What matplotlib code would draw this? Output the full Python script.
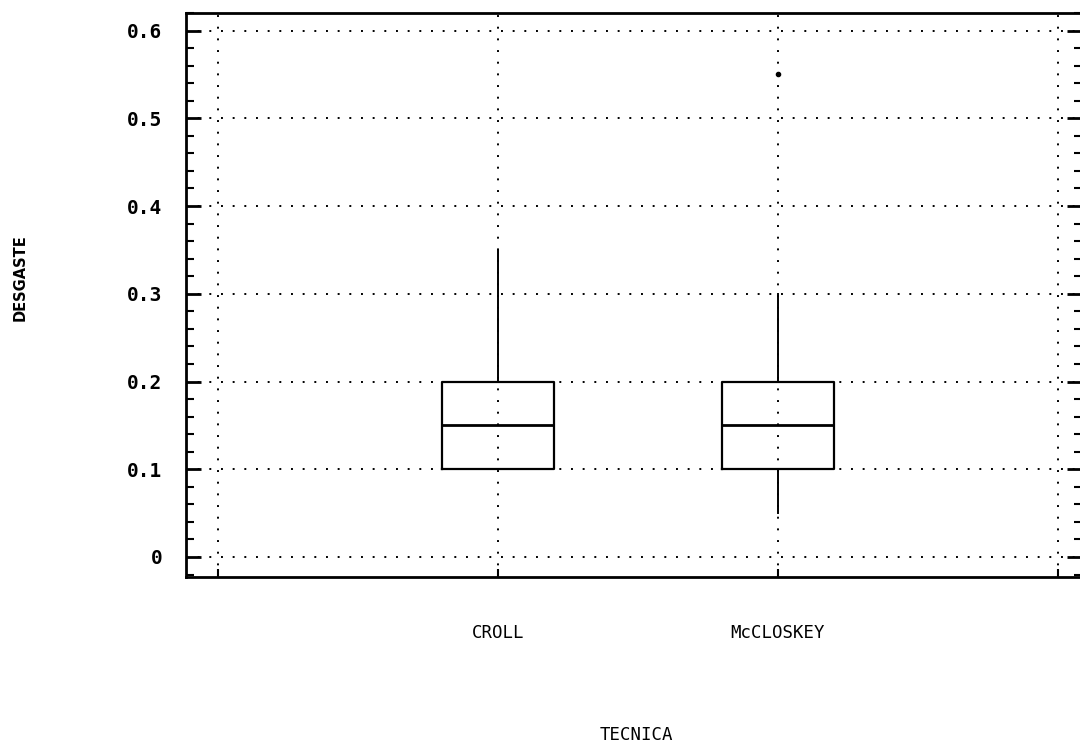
import matplotlib
matplotlib.use("Agg")
import matplotlib.pyplot as plt
from matplotlib.ticker import MultipleLocator

# box statistics per technique
tecnicas = ['CROLL', 'McCLOSKEY']
q1 = [0.10, 0.10]
medianas = [0.15, 0.15]
q3 = [0.20, 0.20]
whis_lo = [0.10, 0.05]
whis_hi = [0.35, 0.30]
atipicos = [[], [0.55]]

posiciones = [1, 2]
xticks = [0, 1, 2, 3]
xlabels = [''] + tecnicas + ['']
yticks = [0, 0.1, 0.2, 0.3, 0.4, 0.5, 0.6]
ylabels = ['0', '0.1', '0.2', '0.3', '0.4', '0.5', '0.6']

stats = []
for i, nombre in enumerate(tecnicas):
    stats.append({'label': nombre, 'q1': q1[i], 'med': medianas[i], 'q3': q3[i],
                  'whislo': whis_lo[i], 'whishi': whis_hi[i], 'fliers': atipicos[i]})

fig = plt.figure(figsize=(10.8, 7.44), dpi=100)
ax = fig.add_axes([186 / 1080, 1 - 577 / 744, (1082 - 186) / 1080, (577 - 13) / 744])

mono = 'DejaVu Sans Mono'

ax.bxp(stats, positions=posiciones, widths=0.4, showcaps=False, zorder=3,
       boxprops=dict(color='black', linewidth=1.6),
       medianprops=dict(color='black', linewidth=2.0),
       whiskerprops=dict(color='black', linewidth=1.4),
       flierprops=dict(marker='o', markersize=3, markerfacecolor='black',
                       markeredgecolor='black'))

ax.set_xlim(-0.114, 3.086)
ax.set_ylim(-0.0228, 0.620)

ax.set_xticks(xticks)
ax.set_xticklabels(xlabels, fontfamily=mono, fontsize=12.5)
ax.set_yticks(yticks)
ax.set_yticklabels(ylabels, fontfamily=mono, fontsize=14, fontweight='bold')
ax.yaxis.set_minor_locator(MultipleLocator(0.02))

ax.grid(True, which='major', color='black', linestyle=(0, (1, 5)), linewidth=1.4)
ax.set_axisbelow(True)

ax.tick_params(axis='x', direction='in', length=6, width=1.5, pad=34, top=False)
ax.tick_params(axis='y', which='major', direction='in', length=11, width=2,
               pad=17, right=True)
ax.tick_params(axis='y', which='minor', direction='in', length=6, width=1.5,
               right=True)

for s in ax.spines.values():
    s.set_linewidth(2)

fig.text(636 / 1080, 1 - 735 / 744, 'TECNICA', ha='center', va='center',
         fontfamily=mono, fontsize=12.5)
fig.text(20 / 1080, 1 - 278 / 744, 'DESGASTE', ha='center', va='center',
         rotation=90, fontsize=10.5, fontweight='bold')

fig.savefig('out.png', dpi=100)
